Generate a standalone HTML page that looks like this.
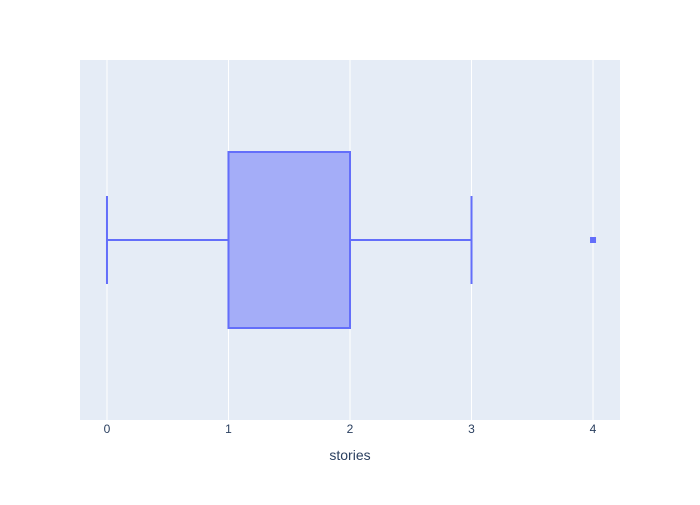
<!DOCTYPE html>
<html><head><meta charset="utf-8"><style>
body{margin:0;background:#fff;font-family:"Liberation Sans",sans-serif;}
</style></head><body>
<svg width="700" height="500" xmlns="http://www.w3.org/2000/svg">
<rect x="80" y="60" width="540" height="360" fill="#e5ecf6"/>
<g id="grid"></g>
<g id="marks"></g>
<g id="ticks" font-size="12" fill="#2a3f5f"></g>
<text x="350" y="460" text-anchor="middle" font-size="14" fill="#2a3f5f">stories</text>
</svg>
<script>
const tickValues=[0,1,2,3,4];
const tickLabels=["0","1","2","3","4"];
const boxStats=[0,1,1,2,3]; // min,q1,median,q3,max
const outliers=[4];
const x0=80,x1=620,dmin=-0.222,dmax=4.222;
const X=v=>x0+(v-dmin)/(dmax-dmin)*(x1-x0);
const NS="http://www.w3.org/2000/svg";
function mk(tag,attrs,parent){const e=document.createElementNS(NS,tag);for(const k in attrs)e.setAttribute(k,attrs[k]);document.getElementById(parent).appendChild(e);return e;}
tickValues.forEach((v,i)=>{
  const g=mk('line',{x1:X(v),x2:X(v),y1:60,y2:420,stroke:'#fff','stroke-width':1},'grid');
  
  
  const t=mk('text',{x:X(v),y:433,'text-anchor':'middle'},'ticks');
  t.textContent=tickLabels[i];
  
  
});
const [mn,q1,med,q3,mx]=boxStats;
const c='#636efa';
const w1=mk('line',{x1:X(mn),x2:X(q1),y1:240,y2:240,stroke:c,'stroke-width':2},'marks');


const w2=mk('line',{x1:X(q3),x2:X(mx),y1:240,y2:240,stroke:c,'stroke-width':2},'marks');


const c1=mk('line',{x1:X(mn),x2:X(mn),y1:196,y2:284,stroke:c,'stroke-width':2},'marks');


const c2=mk('line',{x1:X(mx),x2:X(mx),y1:196,y2:284,stroke:c,'stroke-width':2},'marks');


const b=mk('rect',{x:X(q1),y:152,width:X(q3)-X(q1),height:176,fill:'rgba(99,110,250,0.5)',stroke:c,'stroke-width':2},'marks');


const m=mk('line',{x1:X(med),x2:X(med),y1:152,y2:328,stroke:c,'stroke-width':2},'marks');


outliers.forEach(v=>{
  const o=mk('rect',{x:X(v)-3,y:237,width:6,height:6,fill:c},'marks');
  
  
});
</script>
</body></html>
